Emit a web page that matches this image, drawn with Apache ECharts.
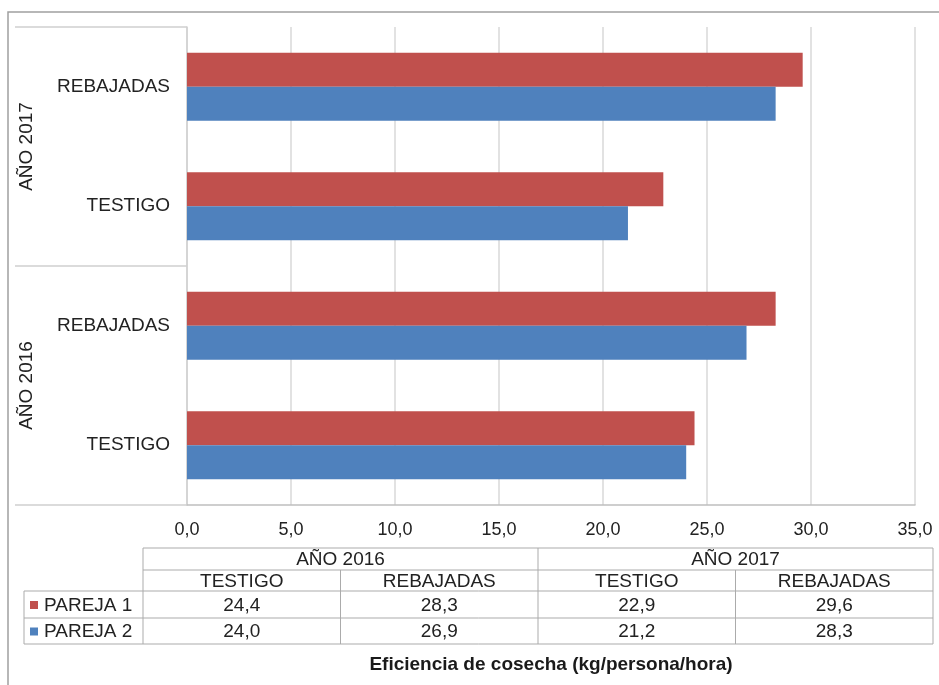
<!DOCTYPE html>
<html>
<head>
<meta charset="utf-8">
<script src="https://cdn.jsdelivr.net/npm/echarts@6/dist/echarts.min.js"></script>
<style>html,body{margin:0;padding:0;background:#fff}#c{width:939px;height:685px}</style>
</head>
<body>
<div id="c"></div>
<script>
var categories = ['TESTIGO', 'REBAJADAS', 'TESTIGO', 'REBAJADAS'];
var groups = ['AÑO 2016', 'AÑO 2017'];
var seriesNames = ['PAREJA 1', 'PAREJA 2'];
var pareja1 = [24.4, 28.3, 22.9, 29.6];
var pareja2 = [24.0, 26.9, 21.2, 28.3];
var seriesColors = ['#C0504D', '#4F81BD'];
var axisTitle = 'Eficiencia de cosecha (kg/persona/hora)';

var FONT = '"Liberation Sans", Arial, sans-serif';
var TXT = '#222222';
var fmt = function (v) { return v.toFixed(1).replace('.', ','); };

// data table geometry
var tL = 143, tR = 933, lgL = 24;
var rows = [548, 570, 591, 618, 644];
var colW = (tR - tL) / 4;
var g = [];
function hl(x1, x2, y) { g.push({type: 'line', shape: {x1: x1, y1: y, x2: x2, y2: y}, style: {stroke: '#ABABAB', lineWidth: 1}, silent: true}); }
function vl(x, y1, y2) { g.push({type: 'line', shape: {x1: x, y1: y1, x2: x, y2: y2}, style: {stroke: '#ABABAB', lineWidth: 1}, silent: true}); }
function tx(x, y, s, align, opt) {
  var st = {text: s, x: x, y: y, fill: TXT, font: '19px ' + FONT, align: align || 'center', verticalAlign: 'middle'};
  if (opt) for (var k in opt) st[k] = opt[k];
  g.push({type: 'text', style: st, silent: true});
}
hl(tL, tR, rows[0]); hl(tL, tR, rows[1]);
hl(lgL, tR, rows[2]); hl(lgL, tR, rows[3]); hl(lgL, tR, rows[4]);
vl(lgL, rows[2], rows[4]); vl(tL, rows[0], rows[4]);
vl(tL + 2 * colW, rows[0], rows[4]); vl(tR, rows[0], rows[4]);
vl(tL + colW, rows[1], rows[4]); vl(tL + 3 * colW, rows[1], rows[4]);
groups.forEach(function (gr, i) { tx(tL + (2 * i + 1) * colW, (rows[0] + rows[1]) / 2 + 1, gr); });
categories.forEach(function (c, i) { tx(tL + (i + 0.5) * colW, (rows[1] + rows[2]) / 2 + 1, c); });
var vals = [pareja1, pareja2];
vals.forEach(function (arr, r) {
  var yc = (rows[2 + r] + rows[3 + r]) / 2 + 1;
  g.push({type: 'rect', shape: {x: 30, y: yc - 4.5, width: 8, height: 8}, style: {fill: seriesColors[r]}, silent: true});
  tx(44, yc, seriesNames[r], 'left');
  arr.forEach(function (v, i) { tx(tL + (i + 0.5) * colW, yc, fmt(v)); });
});
tx(551, 665, axisTitle, 'center', {font: 'bold 19px ' + FONT, fill: '#1a1a1a'});
// outer frame
g.push({type: 'polyline', shape: {points: [[8, 690], [8, 12], [945, 12]]}, style: {stroke: '#A0A0A0', lineWidth: 1.5, fill: null}, silent: true});

var chart = echarts.init(document.getElementById('c'), null, {renderer: 'canvas'});
chart.setOption({
  animation: false,
  backgroundColor: '#fff',
  grid: {left: 187, right: 24, top: 27, bottom: 180},
  xAxis: {
    type: 'value', min: 0, max: 35, interval: 5,
    axisLine: {show: true, lineStyle: {color: '#BFBFBF', width: 1.5}},
    axisTick: {show: false},
    axisLabel: {formatter: fmt, color: TXT, fontSize: 18, fontFamily: FONT, margin: 16},
    splitLine: {show: true, lineStyle: {color: '#D9D9D9', width: 1.5}}
  },
  yAxis: [{
    type: 'category', data: categories, position: 'left',
    axisLine: {show: true, lineStyle: {color: '#D0D0D0', width: 1.5}},
    axisTick: {show: false},
    axisLabel: {color: TXT, fontSize: 19, fontFamily: FONT, margin: 17}
  }, {
    type: 'category', data: groups, position: 'left',
    axisLine: {show: false},
    axisTick: {show: true, length: 172, lineStyle: {color: '#D0D0D0', width: 1.5}},
    axisLabel: {color: TXT, fontSize: 19, fontFamily: FONT, rotate: 90, margin: 151}
  }],
  series: [{
    name: seriesNames[0], type: 'bar', data: pareja1, yAxisIndex: 0,
    itemStyle: {color: seriesColors[0]}, barGap: '0%', barCategoryGap: '43%'
  }, {
    name: seriesNames[1], type: 'bar', data: pareja2, yAxisIndex: 0,
    itemStyle: {color: seriesColors[1]}, barGap: '0%', barCategoryGap: '43%'
  }],
  graphic: g
});
</script>
</body>
</html>
